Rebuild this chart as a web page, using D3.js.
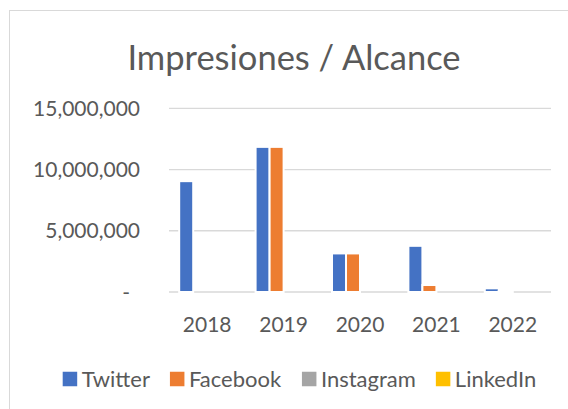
<!DOCTYPE html>
<html>
 <head>
    <title>Impresiones / Alcance</title>
    <script src="https://d3js.org/d3.v7.min.js"></script>
    <style>
      body { margin: 0; background: #fff; }
      text { font-family: Lato, "Noto Sans", sans-serif; fill: #595959; }
    </style>
 </head>
 <body>
    <div id="chart"></div>
    <script>
      // data
      var years = ["2018", "2019", "2020", "2021", "2022"];
      var series = ["Twitter", "Facebook", "Instagram", "LinkedIn"];
      var colors = ["#4472C4", "#ED7D31", "#A5A5A5", "#FFC000"];
      var twitter = [9050000, 11850000, 3150000, 3770000, 300000];
      var facebook = [0, 11850000, 3150000, 570000, 80000];
      var instagram = [0, 0, 0, 0, 0];
      var linkedin = [0, 0, 0, 0, 0];
      var yTicks = [0, 5000000, 10000000, 15000000];

      var values = [twitter, facebook, instagram, linkedin];

      var width = 568;
      var height = 409;

      var svg = d3.select("#chart")
        .append("svg")
        .attr("width", width)
        .attr("height", height);

      // chart frame (only top and left edges show in the picture)
      svg.append("rect")
        .attr("x", 9.5)
        .attr("y", 10.5)
        .attr("width", 700)
        .attr("height", 600)
        .attr("fill", "none")
        .attr("stroke", "#D9D9D9");

      // title
      svg.append("text")
        .attr("x", 294)
        .attr("y", 70)
        .attr("text-anchor", "middle")
        .style("font-size", "34.5px")
        .text("Impresiones / Alcance");

      // scales
      var x0 = d3.scaleBand()
        .domain(years)
        .range([169, 551])
        .paddingInner(0.267)
        .paddingOuter(0.1335);

      var x1 = d3.scaleBand()
        .domain(series)
        .range([0, x0.bandwidth()]);

      var y = d3.scaleLinear()
        .domain([0, 15000000])
        .range([292, 108.3]);

      // gridlines
      svg.append("g")
        .selectAll("line")
        .data(yTicks)
        .join("line")
        .attr("x1", 169)
        .attr("x2", 551)
        .attr("y1", function (d) { return y(d); })
        .attr("y2", function (d) { return y(d); })
        .attr("stroke", "#D9D9D9")
        .attr("stroke-width", 1.3);

      // y labels
      svg.append("g")
        .selectAll("text")
        .data(yTicks)
        .join("text")
        .attr("x", function (d) { return d === 0 ? 130 : 140; })
        .attr("y", function (d) { return y(d); })
        .attr("dy", "0.36em")
        .attr("text-anchor", "end")
        .style("font-size", "21px")
        .text(function (d) { return d === 0 ? "-" : d3.format(",")(d); });

      // x labels
      svg.append("g")
        .selectAll("text")
        .data(years)
        .join("text")
        .attr("x", function (d) { return x0(d) + x0.bandwidth() / 2; })
        .attr("y", 332)
        .attr("text-anchor", "middle")
        .style("font-size", "21px")
        .text(function (d) { return d; });

      // bars
      var groups = svg.append("g")
        .selectAll("g")
        .data(years)
        .join("g")
        .attr("transform", function (d) { return "translate(" + x0(d) + ",0)"; });

      groups.selectAll("rect")
        .data(function (d, i) {
          return series.map(function (s, j) {
            return { name: s, value: values[j][i], color: colors[j] };
          });
        })
        .join("rect")
        .filter(function (d) { return d.value > 0; })
        .attr("x", function (d) { return x1(d.name); })
        .attr("y", function (d) { return y(d.value); })
        .attr("width", x1.bandwidth())
        .attr("height", function (d) { return y(0) - y(d.value); })
        .attr("fill", function (d) { return d.color; })
        .attr("stroke", "#fff")
        .attr("stroke-width", 2);

      // legend
      var legend = svg.append("g");
      var items = legend.selectAll("g")
        .data(series)
        .join("g");
      items.append("rect")
        .attr("width", 14.5)
        .attr("height", 14.5)
        .attr("y", -7.25)
        .attr("fill", function (d, i) { return colors[i]; });
      items.append("text")
        .attr("x", 19)
        .attr("dy", "0.36em")
        .style("font-size", "22px")
        .text(function (d) { return d; });

      var pos = 0;
      items.each(function () {
        var w = this.getBBox().width;
        d3.select(this).attr("transform", "translate(" + pos + ",0)");
        pos += w + 20;
      });
      var total = pos - 20;
      legend.attr("transform", "translate(" + (299.5 - total / 2) + ",379)");
    </script>
 </body>
</html>
